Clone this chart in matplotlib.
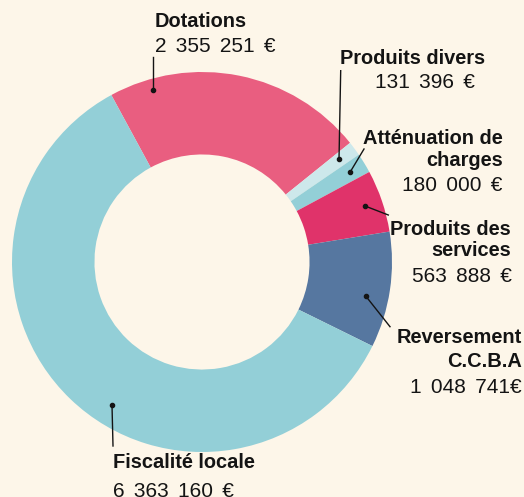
import matplotlib
matplotlib.use("Agg")
import matplotlib.pyplot as plt

# donnees du graphique
categories = ["Dotations", "Produits divers", "Atténuation de\ncharges",
              "Produits des\nservices", "Reversement\nC.C.B.A", "Fiscalité locale"]
values = [2355251, 131396, 180000, 563888, 1048741, 6363160]
value_labels = ["2 355 251 €", "131 396 €", "180 000 €", "563 888 €", "1 048 741€", "6 363 160 €"]
colors = ["#e95e80", "#cde8eb", "#93cfd7", "#e0336a", "#5677a0", "#93cfd7"]

BG = "#fdf6e9"
INK = "#141414"
W, H = 524, 497

plt.rcParams['font.family'] = ['Liberation Sans', 'DejaVu Sans']

fig = plt.figure(figsize=(W / 100, H / 100), dpi=100, facecolor=BG)
ax = fig.add_axes([0, 0, 1, 1])
ax.set_facecolor(BG)

radius = 190
ax.pie(values, colors=colors, startangle=118.5, counterclock=False,
       radius=radius, center=(202, H - 262),
       wedgeprops=dict(width=radius * 0.434, edgecolor='none', linewidth=0))

ax.set_xlim(0, W)
ax.set_ylim(0, H)
ax.set_aspect('equal')
ax.axis('off')

# pozycje etykiet (piksele od gory): x nazwy, baseline pierwszej linii, x wartosci, baseline wartosci, wyrownanie
label_pos = [
    (155, 26.7, 155, 51.7, 'left'),
    (340, 64, 375, 88.3, 'left'),
    (503, 144, 502, 190.7, 'right'),
    (511, 235, 512, 281.7, 'right'),
    (522, 342.7, 522, 392.7, 'right'),
    (113, 468.5, 113, 497, 'left'),
]
line_gap = [0, 0, 21.7, 20.7, 24, 0]
# linie prowadzace: (poczatek, kropka)
leaders = [
    ((152.7, 57), (152.7, 90)),
    ((340.7, 70.7), (339, 159.3)),
    ((364, 149), (350, 172.3)),
    ((388.3, 215), (365, 206)),
    ((390, 326.7), (365.7, 296)),
    ((113, 446), (112, 405)),
]

fs = 14.4
for cat, val, (x, yb, vx, yv, ha), gap in zip(categories, value_labels, label_pos, line_gap):
    for i, line in enumerate(cat.split('\n')):
        ax.text(x, H - (yb + i * gap), line, ha=ha, va='baseline', fontsize=fs,
                fontweight='bold', color=INK)
    # szersze odstepy miedzy grupami cyfr
    ax.text(vx, H - yv, val.replace(' ', ' \u2006'), ha=ha, va='baseline',
            fontsize=15, color=INK)

for (p0, p1) in leaders:
    ax.plot([p0[0], p1[0]], [H - p0[1], H - p1[1]], color=INK, lw=1)
    ax.plot(p1[0], H - p1[1], 'o', color=INK, markersize=3)

plt.savefig('out.png', dpi=100, facecolor=BG)
plt.close()
